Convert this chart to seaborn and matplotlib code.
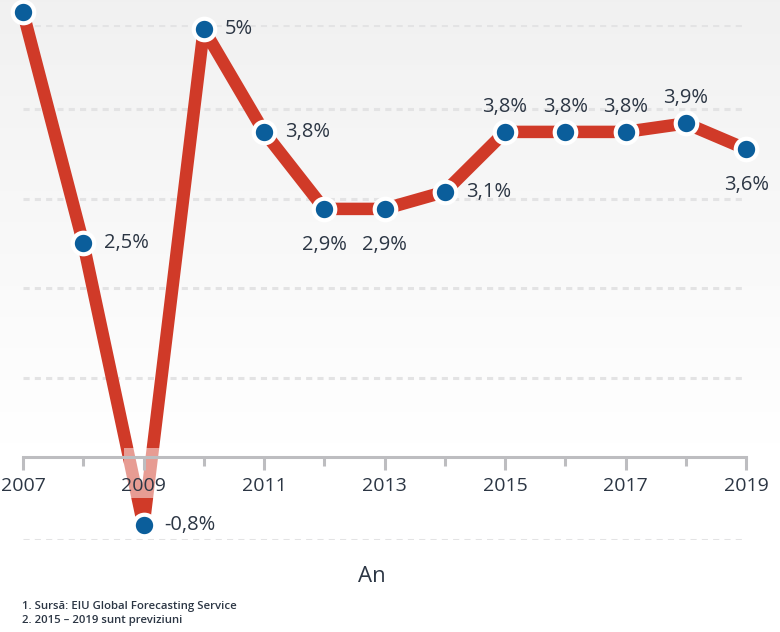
import numpy as np
import pandas as pd
import seaborn as sns
import matplotlib.pyplot as plt

# Data
years = [2007, 2008, 2009, 2010, 2011, 2012, 2013, 2014, 2015, 2016, 2017, 2018, 2019]
growth = [5.2, 2.5, -0.8, 5.0, 3.8, 2.9, 2.9, 3.1, 3.8, 3.8, 3.8, 3.9, 3.6]
value_labels = ['5,2%', '2,5%', '-0,8%', '5%', '3,8%', '2,9%', '2,9%', '3,1%',
                '3,8%', '3,8%', '3,8%', '3,9%', '3,6%']
label_side = ['right', 'right', 'right', 'right', 'right', 'below', 'below', 'right',
              'above', 'above', 'above', 'above', 'below']
grid_levels = [-0.97, 0.92, 1.98, 3.02, 4.07, 5.05]
major_years = [2007, 2009, 2011, 2013, 2015, 2017, 2019]
minor_years = [2008, 2010, 2012, 2014, 2016, 2018]
x_title = 'An'
notes = ['1. Sursă: EIU Global Forecasting Service', '2. 2015 – 2019 sunt previziuni']

RED = '#D03A28'
BLUE = '#0B5E9B'
TEXT = '#2C3644'
AXIS = '#BDBDC0'

sns.set_theme(style='white')
plt.rcParams['font.family'] = ['Open Sans', 'DejaVu Sans']

df = pd.DataFrame({'year': years, 'growth': growth})

fig = plt.figure(figsize=(7.8, 6.32), dpi=100)

# gradient background, light grey at the top fading to white
bg = fig.add_axes([0, 0, 1, 1], zorder=-10)
grad = np.concatenate([np.linspace(0.945, 1.0, 180), np.ones(76)]).reshape(-1, 1)
bg.imshow(np.dstack([grad, grad, grad]), aspect='auto', extent=[0, 1, 0, 1],
          origin='upper')
bg.set_axis_off()

ax = fig.add_axes([0.0295, 0.1456, 0.9270, 0.8149])
ax.set_facecolor('none')
ax.set_axisbelow(False)
ax.set_xlim(2007, 2019)
ax.set_ylim(-0.97, 5.05)

for g in grid_levels:
    ax.axhline(g, color='#E3E3E4', lw=2.2, ls=(0, (2, 1.7)), zorder=0)

sns.lineplot(data=df, x='year', y='growth', ax=ax, color=RED, lw=9,
             solid_joinstyle='round', solid_capstyle='butt', zorder=2, clip_on=False)
# faded part of the line behind the axis labels
ax.axhspan(-0.48, 0.1, xmin=0.14, xmax=0.2, color='white', alpha=0.5, lw=0, zorder=2.2)

sns.scatterplot(data=df, x='year', y='growth', ax=ax, color=BLUE, s=240,
                edgecolor='white', linewidth=3, zorder=4, clip_on=False)

offsets = {'right': (21, 0, 'left', 'center'),
           'below': (0, -36, 'center', 'center'),
           'above': (0, 25, 'center', 'center')}
for x, y, lab, side in zip(years, growth, value_labels, label_side):
    dx, dy, ha, va = offsets[side]
    ax.annotate(lab, (x, y), xytext=(dx, dy), textcoords='offset pixels',
                ha=ha, va=va, fontsize=14.5, color=TEXT, zorder=5)

# axis
for s in ['left', 'right', 'top']:
    ax.spines[s].set_visible(False)
ax.spines['bottom'].set_position(('data', 0))
ax.spines['bottom'].set_color(AXIS)
ax.spines['bottom'].set_linewidth(2.2)
ax.spines['bottom'].set_zorder(3)
ax.set_yticks([])
ax.set_xticks(major_years)
ax.set_xticks(minor_years, minor=True)
ax.set_xticklabels([str(y) for y in major_years])
ax.tick_params(axis='x', which='major', length=9.5, width=2.2, color=AXIS,
               labelsize=14, labelcolor=TEXT, pad=5, bottom=True)
ax.tick_params(axis='x', which='minor', length=6.5, width=2.2, color=AXIS, bottom=True)
ax.set_xlabel('')
ax.set_ylabel('')

fig.text(372 / 780, 1 - 576 / 632, x_title, ha='center', va='center',
         fontsize=16, color=TEXT)
fig.text(22 / 780, 1 - 607 / 632, notes[0], ha='left', va='center',
         fontsize=8.2, color=TEXT, fontweight='semibold')
fig.text(22 / 780, 1 - 621 / 632, notes[1], ha='left', va='center',
         fontsize=8.2, color=TEXT, fontweight='semibold')

fig.savefig('out.png', dpi=100)
